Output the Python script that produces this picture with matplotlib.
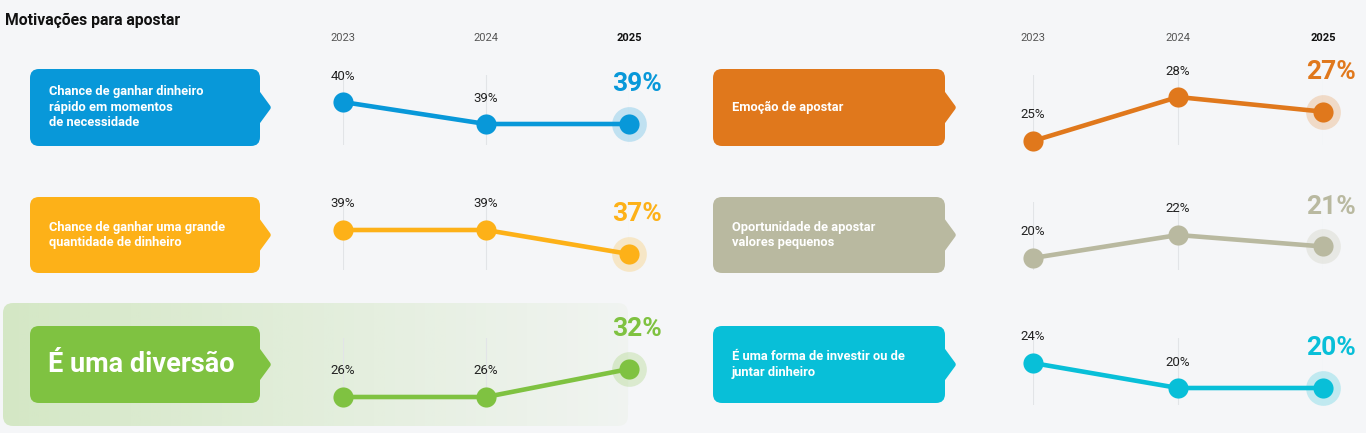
import numpy as np
import matplotlib.pyplot as plt
import matplotlib.transforms as mtransforms
from matplotlib.patches import FancyBboxPatch, Polygon

plt.rcParams["font.family"] = ["Roboto", "DejaVu Sans"]

W, H = 1366, 433
BG = "#f5f6f8"

# ---- data ----
years = [2023, 2024, 2025]
motivos = [
    "Chance de ganhar dinheiro\nrápido em momentos\nde necessidade",
    "Chance de ganhar uma grande\nquantidade de dinheiro",
    "É uma diversão",
    "Emoção de apostar",
    "Oportunidade de apostar\nvalores pequenos",
    "É uma forma de investir ou de\njuntar dinheiro",
]
dinheiro_rapido = [40, 39, 39]
grande_quantia = [39, 39, 37]
diversao = [26, 26, 32]
emocao = [25, 28, 27]
valores_pequenos = [20, 22, 21]
investir = [24, 20, 20]
series = [dinheiro_rapido, grande_quantia, diversao, emocao, valores_pequenos, investir]

colors = ["#0898d9", "#fdb118", "#7fc241", "#e0781c", "#b9b9a0", "#08bfd8"]

# ---- layout (pixels) ----
col_x = [(343, 629), (1033, 1323)]          # x of 2023 / 2025 points
box_x = [(30, 260), (713, 945)]
box_rows = [(69, 146), (197, 273), (326, 403)]
grid_rows = [(75, 145), (202, 270), (338, 405)]
# pixel y of the max / min value of each panel
point_px = [(102, 124), (230, 254), (369, 397), (97, 141), (235, 258), (363, 388)]

fig = plt.figure(figsize=(W / 100, H / 100), dpi=100, facecolor=BG)
bg = fig.add_axes([0, 0, 1, 1])
bg.set_xlim(0, W)
bg.set_ylim(H, 0)
bg.axis("off")
bg.set_facecolor(BG)

bg.text(5, 20, "Motivações para apostar", fontsize=11.3, fontweight="bold",
        color="#111111", ha="left", va="center")

# green highlight behind "É uma diversão"
hl = FancyBboxPatch((3, 303), 625, 123, boxstyle="round,pad=0,rounding_size=10",
                    fc="none", ec="none")
bg.add_patch(hl)
grad = np.zeros((2, 200, 4))
grad[..., :3] = np.array([127, 194, 65]) / 255
grad[..., 3] = np.linspace(0.28, 0.04, 200)
im = bg.imshow(grad, extent=(3, 628, 426, 303), aspect="auto", zorder=0.5,
               interpolation="bilinear")
im.set_clip_path(hl)

px2pt = 72 / 100

for i, (txt, vals, c) in enumerate(zip(motivos, series, colors)):
    col, row = divmod(i, 3)
    bx0, bx1 = box_x[col]
    by0, by1 = box_rows[row]
    cy = (by0 + by1) / 2

    # label box with notch
    bg.add_patch(FancyBboxPatch((bx0, by0), bx1 - bx0, by1 - by0,
                                boxstyle="round,pad=0,rounding_size=9",
                                fc=c, ec="none", zorder=2))
    bg.add_patch(Polygon([(bx1 - 3, cy - 15), (bx1 + 8, cy), (bx1 - 3, cy + 15)],
                         closed=True, fc=c, ec=c, lw=4, joinstyle="round", zorder=2))
    if i == 2:
        bg.text(bx0 + 18, cy, txt, fontsize=19.5, fontweight="bold", color="white",
                ha="left", va="center", zorder=3)
    else:
        bg.text(bx0 + 19, cy, txt, fontsize=9.3, fontweight="bold", color="white",
                ha="left", va="center", linespacing=1.25, zorder=3)

    # line chart axes
    x0, x1 = col_x[col]
    gt, gb = grid_rows[row]
    ax = fig.add_axes([x0 / W, 1 - gb / H, (x1 - x0) / W, (gb - gt) / H])
    ax.set_xlim(years[0], years[-1])
    p_hi, p_lo = point_px[i]
    vmax, vmin = max(vals), min(vals)
    s = (p_lo - p_hi) / (vmax - vmin)
    ax.set_ylim(vmin - (gb - p_lo) / s, vmax + (p_hi - gt) / s)
    ax.axis("off")
    for y in years:
        ax.axvline(y, color="#e2e4e7", lw=0.8, zorder=0)
    ax.plot(years, vals, color=c, lw=3.3, solid_capstyle="round", clip_on=False, zorder=3)
    ax.plot(years[-1], vals[-1], "o", ms=25, color=c, alpha=0.22, mec="none",
            clip_on=False, zorder=2)
    ax.plot(years, vals, "o", ms=14.5, color=c, mec="none", clip_on=False, zorder=4)
    for y, v in zip(years[:-1], vals[:-1]):
        ax.annotate(f"{v}%", (y, v), xytext=(0, 26 * px2pt), textcoords="offset points",
                    ha="center", va="center", fontsize=9.5, color="#222222")
    ax.annotate(f"{vals[-1]}%", (years[-1], vals[-1]), xytext=(8 * px2pt, 40 * px2pt),
                textcoords="offset points", ha="center", va="center",
                fontsize=19, fontweight="bold", color=c)

    if row == 0:
        tr = mtransforms.blended_transform_factory(ax.transData, bg.transData)
        for y in years:
            last = y == years[-1]
            bg.text(y, 38, str(y), transform=tr, ha="center", va="center", fontsize=8,
                    fontweight="bold" if last else "normal",
                    color="#111111" if last else "#555555")

fig.savefig("out.png", dpi=100, facecolor=BG)
